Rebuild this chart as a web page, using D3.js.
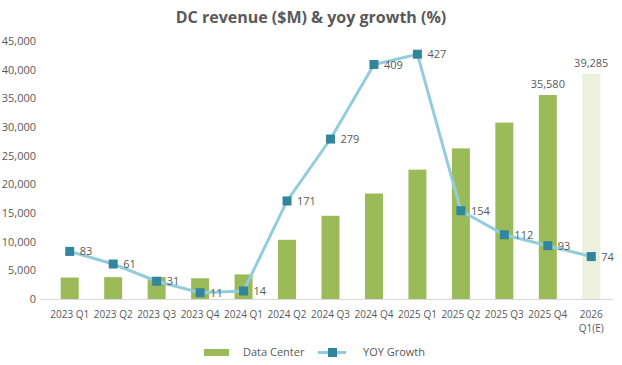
<!DOCTYPE html>
<html><head><meta charset="utf-8">
<script src="https://cdn.jsdelivr.net/npm/d3@7"></script>
<style>
body{margin:0;background:#fff;}
svg{display:block;font-family:"Open Sans",sans-serif;}
</style></head>
<body><svg id="c" width="622" height="365"></svg>
<script>
const categories = ["2023 Q1","2023 Q2","2023 Q3","2023 Q4","2024 Q1","2024 Q2","2024 Q3","2024 Q4","2025 Q1","2025 Q2","2025 Q3","2025 Q4","2026 Q1(E)"];
const revenue = [3750,3806,3833,3620,4284,10323,14514,18404,22563,26272,30771,35580,39285];
const growth = [83,61,31,11,14,171,279,409,427,154,112,93,74];
const yTicks = [0,5000,10000,15000,20000,25000,30000,35000,40000,45000];
const labeledBars = [11,12];

(function(){
const svg = d3.select("#c");
const pL=48, pR=613, pT=41, pB=299;
const x = d3.scaleBand().domain(categories).range([pL,pR]).paddingInner(0.586).paddingOuter(0.293);
const y = d3.scaleLinear().domain([0,45000]).range([pB,pT]);
const y2 = d3.scaleLinear().domain([0,450]).range([pB,pT]);
const textCol="#595959";

svg.append("text").attr("x",311).attr("y",23).attr("text-anchor","middle")
  .attr("font-size",16).attr("font-weight","bold").attr("fill",textCol)
  .text("DC revenue ($M) & yoy growth (%)");

const ya = svg.append("g").attr("transform",`translate(${pL-12},0)`)
  .call(d3.axisLeft(y).tickValues(yTicks).tickSize(0).tickPadding(0).tickFormat(d3.format(",")));
ya.select(".domain").remove();
ya.selectAll("text").attr("font-size",11).attr("fill",textCol).attr("font-family","Open Sans, sans-serif");

svg.append("line").attr("x1",pL-8).attr("x2",pR).attr("y1",pB+0.5).attr("y2",pB+0.5)
  .attr("stroke","#d9d9d9").attr("stroke-width",1);

svg.selectAll("rect.bar").data(revenue).join("rect").attr("class","bar")
  .attr("x",(d,i)=>x(categories[i])).attr("width",x.bandwidth())
  .attr("y",d=>y(d)).attr("height",d=>pB-y(d))
  .attr("fill",(d,i)=>i===categories.length-1?"#ebf1de":"#9bbb59");

svg.selectAll("text.bl").data(labeledBars).join("text").attr("class","bl")
  .attr("x",i=>x(categories[i])+x.bandwidth()/2).attr("y",i=>y(revenue[i])-7)
  .attr("text-anchor","middle").attr("font-size",11).attr("fill",textCol)
  .text(i=>d3.format(",")(revenue[i]));

const cx = (i)=>x(categories[i])+x.bandwidth()/2;
svg.append("path").datum(growth)
  .attr("d",d3.line().x((d,i)=>cx(i)).y(d=>y2(d)))
  .attr("fill","none").attr("stroke","#93cddd").attr("stroke-width",3);
svg.selectAll("rect.m").data(growth).join("rect").attr("class","m")
  .attr("x",(d,i)=>cx(i)-4.5).attr("y",d=>y2(d)-4.5).attr("width",9).attr("height",9)
  .attr("fill","#31859c");
svg.selectAll("text.gl").data(growth).join("text").attr("class","gl")
  .attr("x",(d,i)=>cx(i)+10).attr("y",d=>y2(d)+4)
  .attr("font-size",11).attr("fill",textCol).text(d=>d);

categories.forEach((c,i)=>{
  const t = svg.append("text").attr("x",cx(i)).attr("y",318).attr("text-anchor","middle")
    .attr("font-size",10).attr("fill",textCol);
  const m = c.match(/^(\d{4}) (Q1\(E\))$/);
  if(m){
    t.append("tspan").attr("x",cx(i)).attr("dy",0).text(m[1]);
    t.append("tspan").attr("x",cx(i)).attr("dy",14).text(m[2]);
  } else t.text(c);
});

const lg = svg.append("g");
lg.append("rect").attr("x",204).attr("y",349).attr("width",25).attr("height",7).attr("fill","#9bbb59");
lg.append("text").attr("x",243).attr("y",356).attr("font-size",11).attr("fill",textCol).text("Data Center");
lg.append("line").attr("x1",318).attr("x2",346).attr("y1",352.5).attr("y2",352.5).attr("stroke","#93cddd").attr("stroke-width",3);
lg.append("rect").attr("x",328).attr("y",348).attr("width",9).attr("height",9).attr("fill","#31859c");
lg.append("text").attr("x",363).attr("y",356).attr("font-size",11).attr("fill",textCol).text("YOY Growth");
})();
</script></body></html>
